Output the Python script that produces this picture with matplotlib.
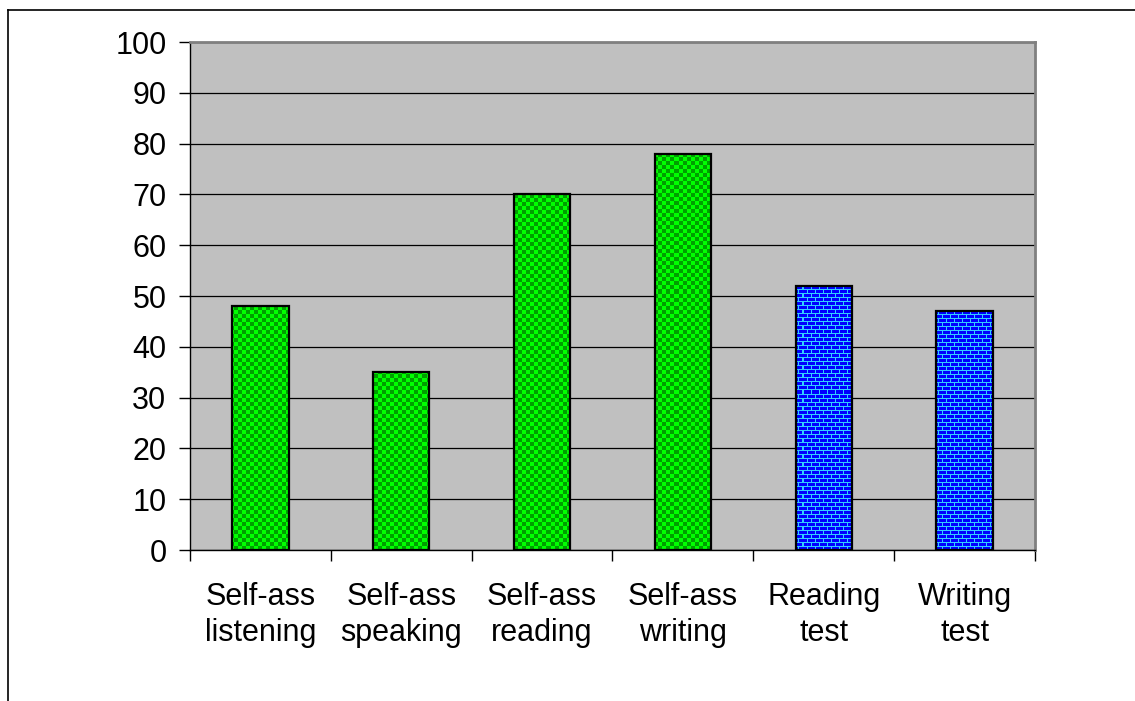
"""Self-assessment vs. test scores bar chart (Excel-style, patterned fills)."""

import matplotlib

matplotlib.use("Agg")
import matplotlib.pyplot as plt
import numpy as np
from matplotlib.lines import Line2D

plt.rcParams["font.family"] = ["Liberation Sans", "DejaVu Sans"]

categories = [
    "Self-ass\nlistening",
    "Self-ass\nspeaking",
    "Self-ass\nreading",
    "Self-ass\nwriting",
    "Reading\ntest",
    "Writing\ntest",
]
values = [48, 35, 70, 78, 52, 47]
kinds = ["self", "self", "self", "self", "test", "test"]
y_ticks = list(range(0, 101, 10))

W, H, DPI = 1135, 701, 100
AX_L, AX_R, AX_T, AX_B = 190, 1035, 42, 550  # axes box in pixels
FS = 22


def _checker_texture(w, h, cell=4):
    yy, xx = np.mgrid[0:h, 0:w]
    on = ((xx // cell) + (yy // cell)) % 2 == 0
    img = np.zeros((h, w, 3))
    img[on] = (0.0, 1.0, 0.0)
    img[~on] = (0.0, 0.62, 0.0)
    return img


def _brick_texture(w, h, bw=8, bh=4):
    yy, xx = np.mgrid[0:h, 0:w]
    row = yy // bh
    shift = (row % 2) * (bw // 2)
    mortar = (yy % bh == 0) | ((xx + shift) % bw == 0)
    img = np.zeros((h, w, 3))
    img[~mortar] = (0.0, 0.0, 1.0)
    img[mortar] = (0.2, 0.8, 1.0)
    return img


def main() -> int:
    fig = plt.figure(figsize=(W / DPI, H / DPI), dpi=DPI)
    ax = fig.add_axes([
        AX_L / W,
        1 - AX_B / H,
        (AX_R - AX_L) / W,
        (AX_B - AX_T) / H,
    ])
    ax.set_facecolor("#c0c0c0")

    x = np.arange(len(categories))
    ax.set_xlim(-0.5, len(categories) - 0.5)
    ax.set_ylim(0, 100)
    ax.set_axisbelow(True)
    ax.yaxis.grid(True, color="black", linewidth=0.9)

    pw, ph = AX_R - AX_L, AX_B - AX_T
    textures = {"self": _checker_texture(pw, ph), "test": _brick_texture(pw, ph)}
    bars = ax.bar(x, values, width=0.4, facecolor="none", edgecolor="black",
                  linewidth=1.6, zorder=3)
    for bar, kind in zip(bars, kinds):
        im = ax.imshow(textures[kind], extent=(-0.5, len(categories) - 0.5, 0, 100),
                       origin="upper", interpolation="nearest", aspect="auto", zorder=2)
        im.set_clip_path(bar)

    ax.set_yticks(y_ticks)
    ax.set_xticks(np.arange(-0.5, len(categories), 1.0))
    ax.set_xticklabels([])
    ax.set_xticks(x, minor=True)
    ax.set_xticklabels(categories, minor=True, fontsize=FS, linespacing=1.27)
    ax.tick_params(axis="x", which="minor", length=0, pad=23)
    ax.tick_params(axis="x", which="major", length=8, width=1, color="black")
    ax.tick_params(axis="y", length=8, width=1, labelsize=FS, pad=9)

    for side in ("left", "bottom"):
        ax.spines[side].set_color("black")
        ax.spines[side].set_linewidth(1.0)
    for side in ("right", "top"):
        ax.spines[side].set_color("#808080")
        ax.spines[side].set_linewidth(2.0)

    # outer chart-area frame (only top/left visible in the crop)
    fig.add_artist(Line2D([8 / W, 8 / W], [0, 1 - 10 / H], transform=fig.transFigure,
                          color="black", linewidth=1.2))
    fig.add_artist(Line2D([8 / W, 1], [1 - 10 / H, 1 - 10 / H], transform=fig.transFigure,
                          color="black", linewidth=1.2))

    fig.savefig("out.png", dpi=DPI)
    plt.close(fig)
    return 0


if __name__ == "__main__":
    raise SystemExit(main())
